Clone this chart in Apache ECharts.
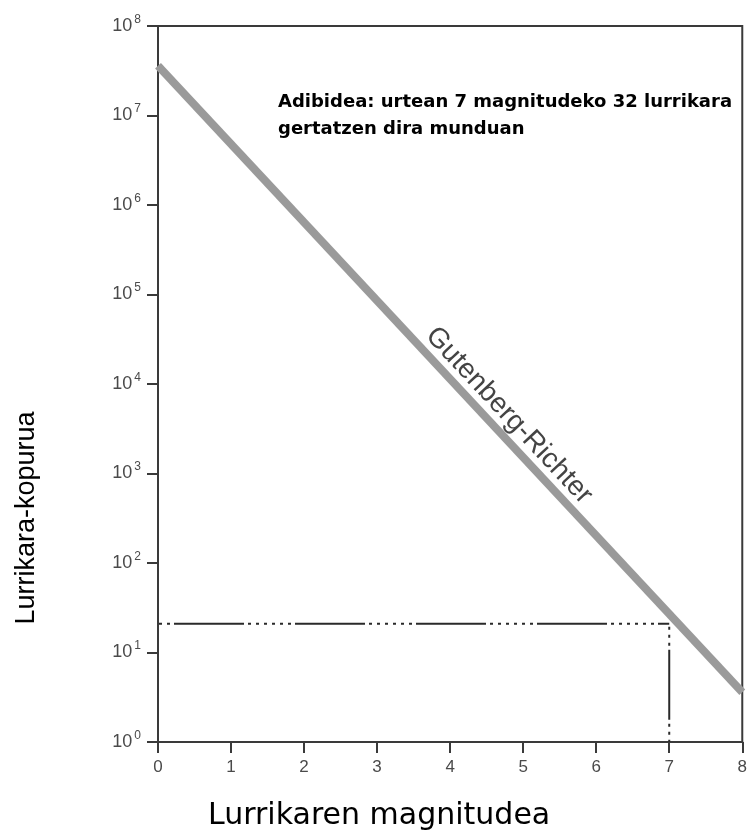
<!DOCTYPE html>
<html>
<head>
<meta charset="utf-8">
<script src="https://cdn.jsdelivr.net/npm/echarts@6/dist/echarts.min.js"></script>
<style>html,body{margin:0;padding:0;background:#fff}#c{width:750px;height:837px}</style>
</head>
<body>
<div id="c"></div>
<script>
// Data
var magnitudes = [0, 8];
var grCounts = [3.6e7, 3.6];            // Gutenberg-Richter line end points
var exampleMagnitude = 7;
var exampleCount = 21;                  // level of the dashed guide
var xTicks = [0, 1, 2, 3, 4, 5, 6, 7, 8];
var yExponents = [0, 1, 2, 3, 4, 5, 6, 7, 8];
var yTitle = 'Lurrikara-kopurua';
var xTitle = 'Lurrikaren magnitudea';
var noteLines = ['Adibidea: urtean 7 magnitudeko 32 lurrikara', 'gertatzen dira munduan'];
var lineLabel = 'Gutenberg-Richter';

var grLine = magnitudes.map(function (m, i) { return [m, grCounts[i]]; });
var guideH = [[xTicks[0], exampleCount], [exampleMagnitude, exampleCount]];
var guideV = [[exampleMagnitude, exampleCount], [exampleMagnitude, 1]];

var chart = echarts.init(document.getElementById('c'));
var dashPattern = [70, 4, 3, 5, 3, 5, 3, 5, 3, 5, 3, 5, 3, 4];
var axisColor = '#3a3a3a';
var option = {
  animation: false,
  backgroundColor: '#fff',
  grid: { left: 158, right: 4, top: 26, bottom: 95, show: true, borderColor: axisColor, borderWidth: 2 },
  xAxis: {
    type: 'value', min: 0, max: 8, interval: 1,
    axisLine: { show: true, lineStyle: { color: axisColor, width: 2 } },
    axisTick: { show: true, length: 11, lineStyle: { color: axisColor, width: 2 } },
    axisLabel: { color: '#4a4a4a', fontSize: 17, fontFamily: 'Liberation Sans, Arial', margin: 17 },
    splitLine: { show: false }
  },
  yAxis: {
    type: 'log', logBase: 10, min: 1, max: 1e8,
    axisLine: { show: true, lineStyle: { color: axisColor, width: 2 } },
    axisTick: { show: true, length: 11, lineStyle: { color: axisColor, width: 2 } },
    axisLabel: {
      margin: 17,
      formatter: function (v) {
        var e = Math.round(Math.log10(v));
        return '{b|10}{s|' + yExponents[e] + '}';
      },
      rich: {
        b: { color: '#4a4a4a', fontSize: 18, fontFamily: 'Liberation Sans, Arial' },
        s: { color: '#4a4a4a', fontSize: 12, fontFamily: 'Liberation Sans, Arial', padding: [0, 0, 13, 2] }
      }
    },
    splitLine: { show: false }
  },
  series: [
    {
      type: 'line', data: guideH, symbol: 'none', silent: true, z: 2,
      lineStyle: { color: '#2a2a2a', width: 2, type: dashPattern, dashOffset: 105 }
    },
    {
      type: 'line', data: guideV, symbol: 'none', silent: true, z: 2,
      lineStyle: { color: '#2a2a2a', width: 2, type: dashPattern, dashOffset: 95 }
    },
    {
      type: 'line', data: grLine, symbol: 'none', silent: true, z: 3,
      lineStyle: { color: '#9a9a9a', width: 8 }
    }
  ]
};
chart.setOption(option);

// place rotated line label along the Gutenberg-Richter line
var p0 = chart.convertToPixel({ gridIndex: 0 }, grLine[0]);
var p1 = chart.convertToPixel({ gridIndex: 0 }, grLine[1]);
var ang = Math.atan2(p1[1] - p0[1], p1[0] - p0[0]);
var t = 0.578;
var cx = p0[0] + (p1[0] - p0[0]) * t, cy = p0[1] + (p1[1] - p0[1]) * t;
var off = 18;
cx += Math.sin(ang) * off; cy -= Math.cos(ang) * off;
chart.setOption({ graphic: [
  { type: 'text', left: 278, top: 89, style: { text: noteLines.join('\n'), fill: '#000', font: 'bold 18px "DejaVu Sans"', lineHeight: 27 } },
  { type: 'text', left: 208, top: 801, style: { text: xTitle, fill: '#000', font: '30px "DejaVu Sans"' } },
  { type: 'text', x: 27, y: 518, rotation: Math.PI / 2, style: { text: yTitle, fill: '#000', font: '27px "Liberation Sans", Arial', align: 'center', verticalAlign: 'middle' } },
  { type: 'text', x: cx, y: cy, rotation: -ang, style: { text: lineLabel, fill: '#444', font: '28px "Liberation Sans", Arial', align: 'center', verticalAlign: 'middle' } }
] });
</script>
</body>
</html>
